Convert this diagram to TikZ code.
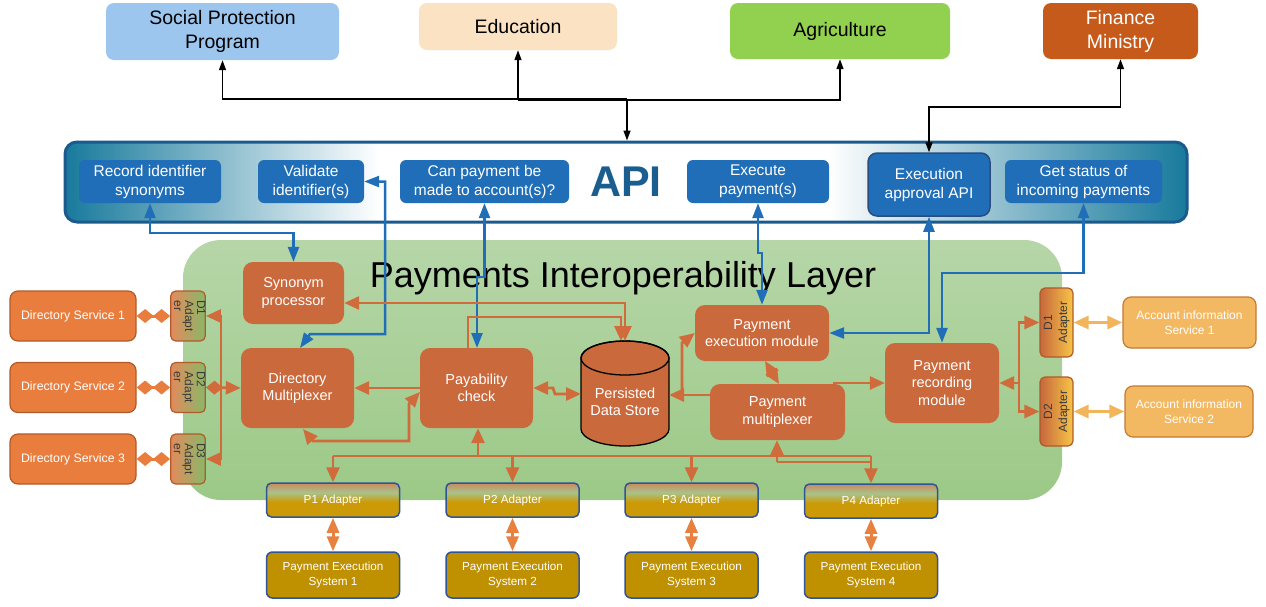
\documentclass[tikz,border=0pt]{standalone}
\usepackage{fontspec}
\setmainfont{Liberation Sans}
\usepackage{graphicx}
\usetikzlibrary{arrows.meta}

\definecolor{socfill}{HTML}{9DC6EE}
\definecolor{edufill}{HTML}{FAE2C3}
\definecolor{agrfill}{HTML}{92D050}
\definecolor{finfill}{HTML}{C55A1A}
\definecolor{apiteal}{HTML}{187A9C}
\definecolor{apiborder}{HTML}{1A5A8C}
\definecolor{apitext}{HTML}{195E8E}
\definecolor{apiblue}{HTML}{1F6EB7}
\definecolor{eapborder}{HTML}{2B4C7E}
\definecolor{layertop}{HTML}{B6D6A8}
\definecolor{layerbot}{HTML}{9CC987}
\definecolor{modfill}{HTML}{C9693C}
\definecolor{ocol}{HTML}{D06B3C}
\definecolor{dsfill}{HTML}{E87D3E}
\definecolor{dsborder}{HTML}{B05A28}
\definecolor{aifill}{HTML}{F3B862}
\definecolor{aiborder}{HTML}{C47A30}
\definecolor{aiarrow}{HTML}{F2B55C}
\definecolor{pesfill}{HTML}{BF9000}
\definecolor{pesborder}{HTML}{2F5597}
\definecolor{padtop}{HTML}{C98A5E}
\definecolor{padgreen}{HTML}{A9C38A}
\definecolor{padgold}{HTML}{CC9A06}
\definecolor{pesarrow}{HTML}{E8803F}
\definecolor{adtext}{HTML}{3A3A3A}
\definecolor{ladleft}{HTML}{E38A5C}
\definecolor{ladmid}{HTML}{F2C7A8}
\definecolor{ladright}{HTML}{88B868}
\definecolor{radleft}{HTML}{C6683C}
\definecolor{radmid}{HTML}{D8D690}
\definecolor{radright}{HTML}{F7C548}

\pgfdeclarehorizontalshading{apishade}{100bp}{color(0bp)=(apiteal); color(25bp)=(apiteal); color(39bp)=(white); color(59bp)=(white); color(75bp)=(apiteal); color(100bp)=(apiteal)}
\pgfdeclareverticalshading{padshade}{100bp}{color(0bp)=(padgold); color(25bp)=(padgold); color(47bp)=(padgold); color(61bp)=(padgreen); color(75bp)=(padtop); color(100bp)=(padtop)}

\tikzset{
  Otri/.tip={Triangle[length=15pt,width=13pt]},
  Btri/.tip={Triangle[length=15pt,width=11pt]},
  Ktri/.tip={Triangle[length=10pt,width=7pt]},
  Ptri/.tip={Triangle[length=15pt,width=12pt]},
  Dia/.tip={Diamond[length=17pt,width=14pt]},
}

\begin{document}
\begin{tikzpicture}[x=1pt,y=-1pt,
  every node/.style={inner sep=1pt, align=center},
  topbox/.style={rounded corners=8pt, font=\fontsize{19.5}{24}\selectfont},
  apibox/.style={rounded corners=6pt, fill=apiblue, text=white, font=\fontsize{15.5}{19}\selectfont, minimum height=43pt},
  module/.style={rounded corners=10pt, fill=modfill, text=white, font=\fontsize{14.5}{17.5}\selectfont},
  dsbox/.style={rounded corners=8pt, fill=dsfill, draw=dsborder, line width=1.2pt, text=white, font=\fontsize{12.3}{15}\selectfont, minimum width=126pt, minimum height=50pt},
  ladapter/.style={rounded corners=5pt, left color=ladleft, middle color=ladmid, right color=ladright, draw=dsborder, line width=1.2pt, text=adtext, font=\fontsize{12}{11}\selectfont, minimum width=32pt, minimum height=50pt, inner sep=0pt},
  radapter/.style={rounded corners=5pt, left color=radleft, middle color=radmid, right color=radright, draw=dsborder, line width=1.2pt, text=adtext, font=\fontsize{12}{15}\selectfont, minimum width=33pt, minimum height=69pt, inner sep=0pt},
  aibox/.style={rounded corners=8pt, fill=aifill, draw=aiborder, line width=1.2pt, text=white, font=\fontsize{12}{15}\selectfont, minimum height=51pt},
  padbox/.style={rounded corners=5pt, shading=padshade, draw=pesborder, line width=1.5pt, text=white, font=\fontsize{11.7}{14}\selectfont, minimum width=133pt, minimum height=34pt},
  pesbox/.style={rounded corners=6pt, fill=pesfill, draw=pesborder, line width=1.5pt, text=white, font=\fontsize{11.7}{15}\selectfont, minimum width=133pt, minimum height=46pt},
  oline/.style={draw=ocol, line width=2.8pt},
  bline/.style={draw=apiblue, line width=2.5pt},
  kline/.style={draw=black, line width=1.5pt},
  pline/.style={draw=pesarrow, line width=3pt},
  ailine/.style={draw=aiarrow, line width=3pt},
]
\useasboundingbox (0,0) rectangle (1266,606);

% ---------- top boxes ----------
\node[topbox, fill=socfill, minimum width=233pt, minimum height=57pt] (soc) at (222.5,31.5) {Social Protection\\Program};
\node[topbox, fill=edufill, minimum width=198pt, minimum height=47pt] (edu) at (518,26.5) {Education};
\node[topbox, fill=agrfill, minimum width=220pt, minimum height=56pt] (agr) at (840,31) {Agriculture};
\node[topbox, fill=finfill, text=white, minimum width=155pt, minimum height=56pt] (fin) at (1120.5,31) {Finance\\Ministry};

% ---------- green layer ----------
\node[rounded corners=38pt, top color=layertop, bottom color=layerbot, minimum width=879pt, minimum height=260pt, inner sep=0pt] (layer) at (622.5,370) {};
\node[font=\fontsize{36}{42}\selectfont] (title) at (623,278) {Payments Interoperability Layer};

% ---------- API bar ----------
\node[draw=apiborder, line width=3pt, shading=apishade, rounded corners=12pt, minimum width=1122pt, minimum height=80pt, inner sep=0pt] (api) at (626,182) {};
\node[font=\fontsize{43}{50}\selectfont\bfseries, text=apitext] (apilbl) at (626,182) {API};

\node[apibox, minimum width=142pt] (rec) at (150,181.5) {Record identifier\\synonyms};
\node[apibox, minimum width=106pt] (val) at (311,181.5) {Validate\\identifier(s)};
\node[apibox, minimum width=169pt] (can) at (484.5,181.5) {Can payment be\\made to account(s)?};
\node[apibox, minimum width=142pt] (exe) at (758,181.5) {Execute\\payment(s)};
\node[apibox, draw=eapborder, line width=1.5pt, rounded corners=9pt, minimum width=122pt, minimum height=63pt] (eap) at (929,184.5) {Execution\\approval API};
\node[apibox, minimum width=157pt] (get) at (1083.5,181.5) {Get status of\\incoming payments};

% ---------- directory side ----------
\node[dsbox] (ds1) at (73,316) {Directory Service 1};
\node[dsbox] (ds2) at (73,387.5) {Directory Service 2};
\node[dsbox] (ds3) at (73,459) {Directory Service 3};

\node[ladapter] (da1) at (188,316) {\rotatebox{-90}{\begin{tabular}{@{}l@{}}D1\\Adapt\\er\end{tabular}}};
\node[ladapter] (da2) at (188,387.5) {\rotatebox{-90}{\begin{tabular}{@{}l@{}}D2\\Adapt\\er\end{tabular}}};
\node[ladapter] (da3) at (188,459) {\rotatebox{-90}{\begin{tabular}{@{}l@{}}D3\\Adapt\\er\end{tabular}}};

% ---------- modules ----------
\node[module, minimum width=101pt, minimum height=62pt] (syn) at (293.5,293) {Synonym\\processor};
\node[module, minimum width=113pt, minimum height=80pt] (dm) at (297.5,388) {Directory\\Multiplexer};
\node[module, minimum width=113pt, minimum height=80pt] (pay) at (476.5,388) {Payability\\check};
\node[module, minimum width=134pt, minimum height=56pt] (pem) at (762,333) {Payment\\execution module};
\node[module, minimum width=135pt, minimum height=56pt] (pm) at (777.5,412) {Payment\\multiplexer};
\node[module, minimum width=114pt, minimum height=80pt] (pr) at (942,383) {Payment\\recording\\module};

% data store cylinder
\filldraw[fill=modfill, draw=black, line width=1.3pt] (581,358) -- (581,429) arc[start angle=180, end angle=360, x radius=44pt, y radius=17pt] -- (669,358) arc[start angle=0, end angle=180, x radius=44pt, y radius=17pt] -- cycle;
\draw[black, line width=1.3pt] (625,358) ellipse[x radius=44pt, y radius=17pt];
\node[text=white, font=\fontsize{14.5}{17.5}\selectfont] (cyl) at (625,402) {Persisted\\Data Store};
\coordinate (cyltop) at (625,341);
\coordinate (cylwest) at (581,394);
\coordinate (cyleast) at (669,395);

% ---------- account side ----------
\node[radapter] (ra1) at (1056.5,322.5) {\rotatebox{90}{\begin{tabular}{@{}c@{}}D1\\Adapter\end{tabular}}};
\node[radapter] (ra2) at (1056.5,411.5) {\rotatebox{90}{\begin{tabular}{@{}c@{}}D2\\Adapter\end{tabular}}};
\node[aibox, minimum width=133pt] (ai1) at (1189.5,322.5) {Account information\\Service 1};
\node[aibox, minimum width=128pt] (ai2) at (1189,411.5) {Account information\\Service 2};

% ---------- payment adapters / systems ----------
\node[padbox] (p1) at (333,500) {P1 Adapter};
\node[padbox] (p2) at (512.5,500) {P2 Adapter};
\node[padbox] (p3) at (691.5,500) {P3 Adapter};
\node[padbox] (p4) at (871,501) {P4 Adapter};
\node[pesbox] (s1) at (333,575) {Payment Execution\\System 1};
\node[pesbox] (s2) at (512.5,575) {Payment Execution\\System 2};
\node[pesbox] (s3) at (691.5,575) {Payment Execution\\System 3};
\node[pesbox] (s4) at (871,575) {Payment Execution\\System 4};

% ---------- black connectors ----------
\coordinate (kj) at (627,99);
\draw[kline, -Ktri] (kj) -| (soc.south);
\draw[kline, -Ktri] (518,100) -- (edu.south);
\draw[kline, -Ktri] (518,100) -| (agr.south);
\draw[kline, -Ktri] (kj) -- (api.north -| kj);
\draw[kline, Ktri-Ktri] (fin.south) |- (929,107) -- (eap.north);

% ---------- blue connectors ----------
\draw[bline, Btri-Btri] (rec.south) -- (150,233) -| (syn.north);
\draw[bline, Btri-Btri] (val.east) -- (385,181.5) -- (385,334) -- (310,334) -- (300,348);
\draw[bline, Btri-Btri] (can.south) -- (484.5,277) -- (477,277) -- (477,348);
\draw[bline, Btri-Btri] (exe.south) -- (758,253) -- (762,253) -- (pem.north);
\draw[bline, Btri-Btri] (eap.south) |- (pem.east);
\draw[bline, Btri-Btri] (get.south) -- (1083.5,273) -| (pr.north);

% ---------- directory connectors ----------
\draw[draw=dsfill, line width=3pt, Dia-Dia] (ds1.east) -- (da1.west);
\draw[draw=dsfill, line width=3pt, Dia-Dia] (ds2.east) -- (da2.west);
\draw[draw=dsfill, line width=3pt, Dia-Dia] (ds3.east) -- (da3.west);
\coordinate (lbus) at (221,387.5);
\draw[oline, -Otri] (lbus) |- (da1.east);
\draw[oline, -Otri] (lbus) |- (da3.east);
\draw[oline, Dia-Otri] (da2.east) -- (dm.west);

% ---------- internal orange connectors ----------
\draw[oline, Otri-Otri] ([yshift=-10pt]syn.east) -- (625,303) -- (cyltop);
\draw[oline, -Otri] (468,348) -- (468,317) -- (621,317) -- (621,341);
\draw[oline, -Otri] (pay.west) -- (dm.east);
\draw[oline, Otri-Otri] (303,429) -- (313,441) -- (409,441) -- (409,404) -- (420,392);
\draw[oline, Otri-Otri] (pay.east) -- (553,388) -- (555,394) -- (cylwest);
\draw[oline, -Otri] (pm.west |- cyleast) -- (cyleast);
\draw[oline, -Otri] (682,395) -- (682,343) -- (pem.west);
\draw[oline, Otri-Otri] (765,361) -- (779,384);
\draw[oline, -Otri] (833,383) -- (pr.west);

% bottom bus
\draw[oline] (333,456) -- (871,456);
\draw[oline, -Otri] (333,456) -- (p1.north);
\draw[oline, -Otri] (512.5,456) -- (p2.north);
\draw[oline, -Otri] (691.5,456) -- (p3.north);
\draw[oline, -Otri] (871,456) -- (p4.north);
\draw[oline, -Otri] (478,456) -- (pay.south -| 478,0);
\draw[oline, -Otri] (777,462) -- (pm.south -| 777,0);
\draw[oline] (777,462) -- (871,462);

% ---------- account connectors ----------
\coordinate (rbus) at (1019,383);
\draw[oline, -Otri] (rbus) -- (pr.east);
\draw[oline, -Otri] (rbus) |- (ra1.west);
\draw[oline, -Otri] (rbus) |- (ra2.west);
\draw[ailine, Otri-Otri] (ra1.east) -- (ai1.west);
\draw[ailine, Otri-Otri] (ra2.east) -- (ai2.west);

% ---------- adapter to system connectors ----------
\draw[pline, Ptri-Ptri] (p1.south) -- (s1.north);
\draw[pline, Ptri-Ptri] (p2.south) -- (s2.north);
\draw[pline, Ptri-Ptri] (p3.south) -- (s3.north);
\draw[pline, Ptri-Ptri] (p4.south) -- (s4.north);
\end{tikzpicture}
\end{document}
